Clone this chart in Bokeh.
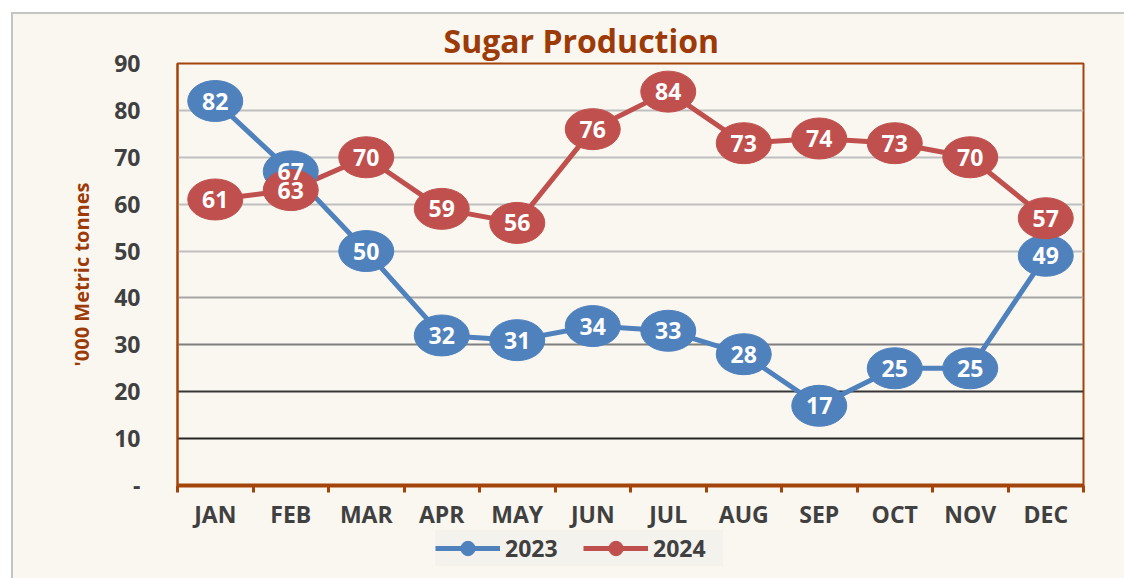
from bokeh.plotting import figure
from bokeh.layouts import column
from bokeh.models import FixedTicker, Range1d, Legend, LegendItem, ColumnDataSource
from bokeh.core.properties import value
from bokeh.embed import file_html
from bokeh.resources import INLINE

months = ["JAN", "FEB", "MAR", "APR", "MAY", "JUN", "JUL", "AUG", "SEP", "OCT", "NOV", "DEC"]
sugar_2023 = [82, 67, 50, 32, 31, 34, 33, 28, 17, 25, 25, 49]
sugar_2024 = [61, 63, 70, 59, 56, 76, 84, 73, 74, 73, 70, 57]
series_names = ["2023", "2024"]
y_ticks = [0, 10, 20, 30, 40, 50, 60, 70, 80, 90]
grid_vals = [10, 20, 30, 40, 50, 60, 70, 80]
grid_colors = ["#262626", "#363636", "#7F7F7F", "#A6A6A6", "#BFBFBF", "#BFBFBF", "#BFBFBF", "#BFBFBF"]

BG = "#FAF7F0"
BROWN = "#A3440B"
TXT_BROWN = "#9C3B08"
DARK = "#404040"
BLUE = "#4F81BD"
RED = "#C0504D"
FONT = "Open Sans"

xs = list(range(1, len(months) + 1))

p = figure(width=1111, height=518, output_backend="svg", toolbar_location=None,
           x_range=Range1d(0.5, len(months) + 0.5), y_range=Range1d(0, 90),
           min_border_left=164, min_border_right=41, min_border_top=49, min_border_bottom=47,
           background_fill_color=BG, border_fill_color=BG)

p.title.text = "Sugar Production"
p.title.align = "left"
p.title.offset = 266
p.title.text_font = FONT
p.title.text_font_size = "32px"
p.title.text_font_style = "bold"
p.title.text_color = TXT_BROWN
p.title.standoff = 3

p.outline_line_color = BROWN
p.outline_line_width = 2
p.xgrid.visible = False
p.ygrid.visible = False

# gridlines
p.hspan(y=grid_vals, line_color=grid_colors, line_width=2)

# y axis
ya = p.yaxis[0]
ya.ticker = FixedTicker(ticks=y_ticks)
ya.major_label_overrides = {0: "-"}
ya.major_tick_line_color = None
ya.minor_tick_line_color = None
ya.axis_line_color = BROWN
ya.axis_line_width = 2
ya.major_label_standoff = 31
ya.major_label_text_font = FONT
ya.major_label_text_font_size = "23px"
ya.major_label_text_font_style = "bold"
ya.major_label_text_color = DARK
ya.axis_label = "'000 Metric tonnes"
ya.axis_label_text_font = FONT
ya.axis_label_text_font_size = "20px"
ya.axis_label_text_font_style = "bold"
ya.axis_label_text_color = TXT_BROWN
ya.axis_label_standoff = 16

# x axis
xa = p.xaxis[0]
xa.ticker = FixedTicker(ticks=xs, minor_ticks=[x - 0.5 for x in xs] + [len(xs) + 0.5])
xa.major_label_overrides = {i: m for i, m in zip(xs, months)}
xa.major_tick_line_color = None
xa.minor_tick_line_color = BROWN
xa.minor_tick_line_width = 3
xa.minor_tick_out = 7
xa.minor_tick_in = 0
xa.axis_line_color = BROWN
xa.axis_line_width = 4
xa.major_label_standoff = 5
xa.major_label_text_font = FONT
xa.major_label_text_font_size = "23px"
xa.major_label_text_font_style = "bold"
xa.major_label_text_color = DARK

src23 = ColumnDataSource(dict(x=xs, y=sugar_2023, t=[str(v) for v in sugar_2023]))
src24 = ColumnDataSource(dict(x=xs, y=sugar_2024, t=[str(v) for v in sugar_2024]))

p.line("x", "y", source=src23, line_color=BLUE, line_width=5)
p.line("x", "y", source=src24, line_color=RED, line_width=5)
p.ellipse("x", "y", source=src23, width=55, height=41, width_units="screen", height_units="screen",
          fill_color=BLUE, line_color=BLUE)
p.ellipse("x", "y", source=src24, width=55, height=41, width_units="screen", height_units="screen",
          fill_color=RED, line_color=RED)
for s in (src23, src24):
    p.text("x", "y", text="t", source=s, text_align="center", text_baseline="middle",
           text_color="white", text_font=value(FONT), text_font_size="23px", text_font_style="bold")

# legend strip (separate figure under the chart)
p2 = figure(width=1111, height=54, output_backend="svg", toolbar_location=None,
            x_range=Range1d(0, 1), y_range=Range1d(0, 1), x_axis_type=None, y_axis_type=None,
            min_border_left=0, min_border_right=0, min_border_top=0, min_border_bottom=0,
            background_fill_color=None, border_fill_color=None, outline_line_color=None)
p2.margin = (-8, 0, 0, 0)
p2.xgrid.visible = False
p2.ygrid.visible = False
items = []
for name, col in zip(series_names, [BLUE, RED]):
    lr = p2.line(x=[-10, -9], y=[-10, -9], line_color=col, line_width=5)
    mr = p2.scatter(x=[-10], y=[-10], size=15, fill_color=col, line_color=col)
    items.append(LegendItem(label=name, renderers=[lr, mr]))

legend = Legend(items=items, orientation="horizontal", location=(258, 12))
legend.background_fill_color = "#F2F1EC"
legend.border_line_color = None
legend.padding = 5
legend.margin = 0
legend.glyph_width = 65
legend.glyph_height = 36
legend.label_standoff = 5
legend.label_width = 70
legend.spacing = 8
legend.label_text_font = FONT
legend.label_text_font_size = "23px"
legend.label_text_font_style = "bold"
legend.label_text_color = DARK
p2.add_layout(legend)

layout = column(p, p2, spacing=0)
layout.margin = (12, 0, 0, 11)
layout.styles = {"border-top": "2px solid #C4C4C4", "border-left": "2px solid #C4C4C4",
                 "background-color": BG}

open("out.html", "w").write(file_html(layout, INLINE))
